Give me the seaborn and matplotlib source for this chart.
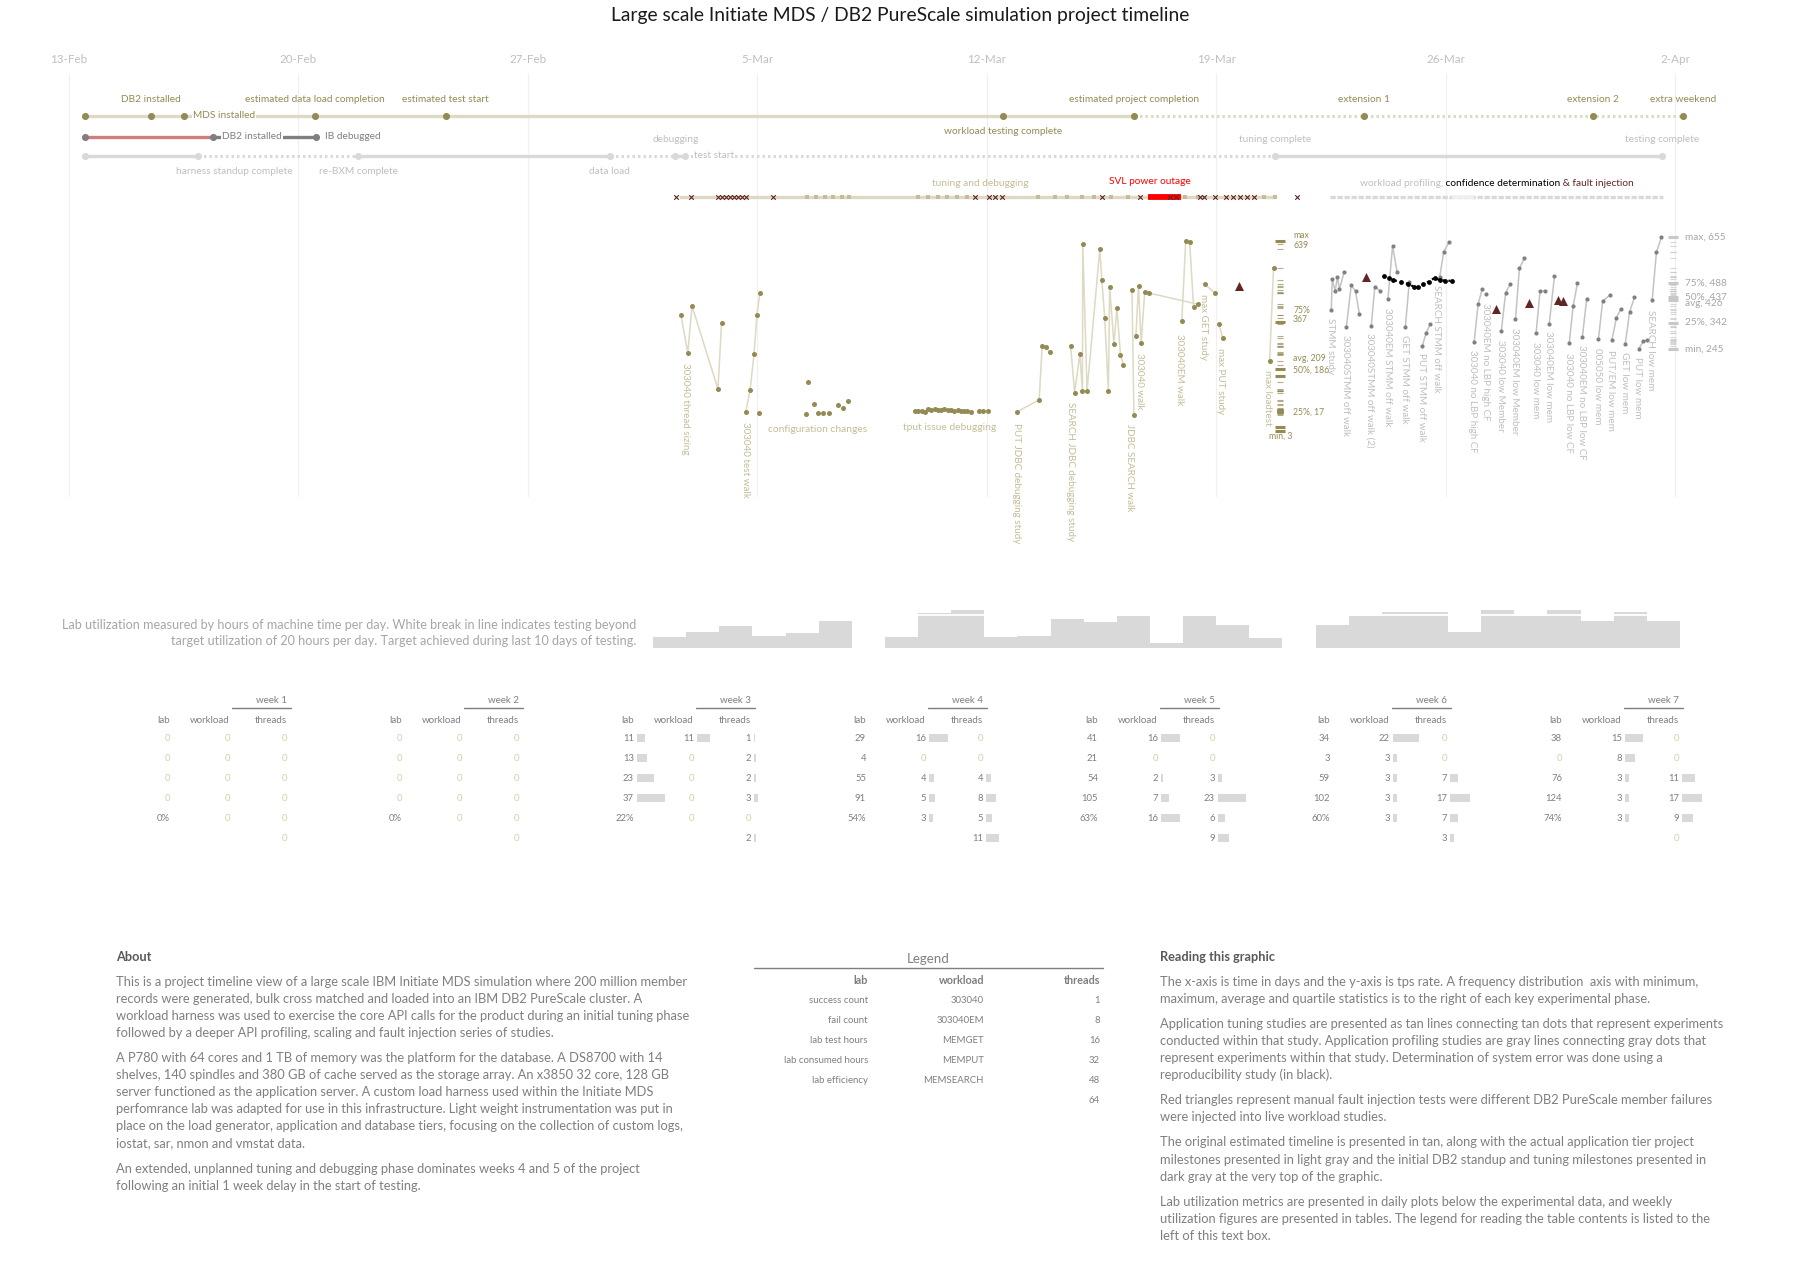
import matplotlib
matplotlib.use("Agg")
import matplotlib.pyplot as plt
import numpy as np
import pandas as pd
import seaborn as sns

# ---------------- data (days counted from 13-Feb-2012) ----------------
date_ticks = [0, 7, 14, 21, 28, 35, 42, 49]
date_labels = ["13-Feb", "20-Feb", "27-Feb", "5-Mar", "12-Mar", "19-Mar", "26-Mar", "2-Apr"]

est_days = [0.5, 2.5, 3.5, 7.5, 11.5, 28.5, 32.5, 39.5, 46.5, 49.25]
est_names = ["", "DB2 installed", "MDS installed", "estimated data load completion",
             "estimated test start", "workload testing complete",
             "estimated project completion", "extension 1", "extension 2", "extra weekend"]

db2_days = [0.5, 4.4, 7.55]
db2_names = ["", "DB2 installed", "IB debugged"]

act_days = [0.5, 3.95, 8.83, 16.5, 18.5, 18.8, 36.8, 48.6]
act_names = ["", "harness standup complete", "re-BXM complete", "data load", "debugging",
             "test start", "tuning complete", "testing complete"]

run_span = [18.6, 36.81]
run_dash_days = [22.52, 22.79, 23.07, 23.31, 23.59, 23.80, 25.9, 26.2, 26.5, 26.8, 27.1, 27.4,
                 29.55, 30.08, 30.45, 30.9, 31.27, 31.8, 32.3, 34.05, 34.45, 36.45, 36.8]
fail_days = [18.52, 18.97, 19.80, 19.92, 20.04, 20.17, 20.29, 20.41, 20.53, 20.66, 21.48,
             27.63, 28.07, 28.25, 28.47, 31.51, 32.67, 33.59, 33.77, 34.5, 34.63, 34.96,
             35.3, 35.51, 35.72, 35.94, 36.15, 37.46]
outage_span = [32.91, 33.93]
profiling_span = [38.47, 48.62]
confidence_span = [42.2, 42.85]

# application tuning studies (tan)
tan_names = ["303040 thread sizing", "303040 test walk", "PUT JDBC debugging study",
             "SEARCH JDBC debugging study", "JDBC SEARCH walk", "303040 walk",
             "303040EM walk", "max GET study", "max PUT study", "max loadtest"]
tan_days = [
    [18.67, 18.88, 19.01, 19.80, 19.91],
    [20.65, 20.78, 20.90, 20.99, 21.08],
    [28.92, 29.60, 29.69, 29.80, 29.92],
    [30.56, 30.68, 30.84, 30.92, 30.93, 31.06, 31.45, 31.51, 31.60, 31.71, 31.75,
     31.88, 31.97, 32.08, 32.17],
    [32.43, 32.49],
    [32.55, 32.63, 32.71, 32.82, 32.95, 34.43],
    [33.95, 34.07, 34.19, 34.31],
    [34.65, 34.96],
    [35.08, 35.20],
    [36.63, 36.75],
]
tan_tps = [
    [391, 264, 421, 143, 364],
    [67, 140, 260, 391, 464],
    [67, 107, 287, 284, 267],
    [287, 130, 260, 137, 628, 137, 611, 508, 381, 137, 484, 294, 414, 257, 224],
    [474, 56],
    [321, 488, 297, 468, 464, 427],
    [371, 638, 635, 417],
    [494, 464],
    [361, 314],
    [237, 549],
]
config_days = [21.05, 22.49, 22.54, 22.73, 22.85, 23.02, 23.18, 23.46, 23.60, 23.76]
config_tps = [63, 60, 167, 93, 63, 63, 63, 90, 80, 103]
tput_days = [25.81, 25.91, 26.01, 26.11, 26.21, 26.31, 26.41, 26.51, 26.61, 26.71, 26.81,
             26.91, 27.01, 27.11, 27.21, 27.31, 27.41, 27.51, 27.75, 27.90, 28.04]
tput_tps = [71, 71, 71, 65, 77, 74, 77, 74, 74, 77, 74, 74, 71, 74, 71, 71, 71, 68, 71, 71, 71]
tan_stat_names = ["max\n639", "75%\n367", "avg, 209", "50%, 186", "25%, 17", "min, 3"]
tan_stat_vals = [639, 367, 209, 186, 17, 3]
tan_fault_days = [35.69]
tan_fault_tps = [489]

# application profiling studies (gray)
gray_names = ["STMM study", "303040STMM off walk", "303040STMM off walk (2)",
              "303040EM STMM off walk", "GET STMM off walk", "PUT STMM off walk",
              "SEARCH STMM off walk", "303040 no LBP high CF", "303040EM no LBP high CF",
              "303040 low Member", "303040EM low Member", "303040 low mem", "303040EM low mem",
              "303040 no LBP low CF", "303040EM no LBP low CF", "005050 low mem",
              "PUT/EM low mem", "GET low mem", "PUT low mem", "SEARCH low mem"]
gray_days = [
    [38.51, 38.54, 38.63, 38.70, 38.76, 38.90],
    [38.97, 39.12, 39.25, 39.37],
    [39.73, 39.84, 40.00],
    [40.24, 40.38, 40.52],
    [40.77, 40.89],
    [41.29, 41.41, 41.53],
    [41.82, 41.94, 42.10],
    [42.87, 42.99, 43.11],
    [43.24],
    [43.70, 43.83, 43.97],
    [44.13, 44.25, 44.40],
    [44.76, 44.88, 45.04],
    [45.16, 45.32],
    [45.77, 45.89, 46.02],
    [46.17, 46.30],
    [46.66, 46.79, 47.00],
    [47.07, 47.21, 47.35],
    [47.48, 47.61, 47.76],
    [47.89, 48.03, 48.15],
    [48.30, 48.43, 48.58],
]
gray_tps = [
    [388, 501, 458, 510, 464, 527],
    [325, 479, 457, 372],
    [331, 474, 459],
    [430, 623, 527],
    [327, 490],
    [257, 305, 336],
    [510, 602, 637],
    [272, 409, 464],
    [446],
    [312, 452, 483],
    [354, 541, 578],
    [305, 458, 458],
    [338, 513],
    [266, 404, 486],
    [288, 427],
    [281, 421, 442],
    [277, 360, 393],
    [264, 380, 435],
    [245, 273, 277],
    [424, 600, 655],
]
repro_days = [40.12, 40.27, 40.40, 40.64, 40.86, 41.02, 41.17, 41.32, 41.48, 41.66, 41.82, 41.99, 42.20]
repro_tps = [513, 505, 498, 491, 484, 474, 472, 483, 492, 506, 498, 496, 495]
gray_fault_days = [39.58, 43.54, 44.55, 45.42, 45.58]
gray_fault_tps = [510, 391, 413, 425, 420]
gray_stat_names = ["max, 655", "75%, 488", "50%, 437", "avg, 426", "25%, 342", "min, 245"]
gray_stat_vals = [655, 488, 437, 426, 342, 245]

# lab utilization, hours per day (None = no testing)
util_hours = [6.7, 9.6, 13.3, 7.3, 9.0, 16.3, None,
              6.5, 21.0, 23.0, 6.5, 7.1, 17.6, 15.7, 19.4, 2.9, 19.4, 13.9, 5.9, None,
              13.9, 19.4, 21.6, 21.6, 9.6, 23.0, 19.4, 23.0, 16.3, 21.6, 16.3]
target_hours = 20

# weekly tables
week_lab = [[0, 0, 0, 0], [0, 0, 0, 0], [11, 13, 23, 37], [29, 4, 55, 91],
            [41, 21, 54, 105], [34, 3, 59, 102], [38, 0, 76, 124]]
week_eff = ["0%", "0%", "22%", "54%", "63%", "60%", "74%"]
week_workload = [[0, 0, 0, 0, 0], [0, 0, 0, 0, 0], [11, 0, 0, 0, 0], [16, 0, 4, 5, 3],
                 [16, 0, 2, 7, 16], [22, 3, 3, 3, 3], [15, 8, 3, 3, 3]]
week_threads = [[0, 0, 0, 0, 0, 0], [0, 0, 0, 0, 0, 0], [1, 2, 2, 3, 0, 2], [0, 0, 4, 8, 5, 11],
                [0, 0, 3, 23, 6, 9], [0, 0, 7, 17, 7, 3], [0, 0, 11, 17, 9, 0]]

legend_lab = ["success count", "fail count", "lab test hours", "lab consumed hours", "lab efficiency"]
legend_workload = ["303040", "303040EM", "MEMGET", "MEMPUT", "MEMSEARCH"]
legend_threads = ["1", "8", "16", "32", "48", "64"]

about_lines = [
    ["This is a project timeline view of a large scale IBM Initiate MDS simulation where 200 million member",
     "records were generated, bulk cross matched and loaded into an IBM DB2 PureScale cluster. A",
     "workload harness was used to exercise the core API calls for the product during an initial tuning phase",
     "followed by a deeper API profiling, scaling and fault injection series of studies."],
    ["A P780 with 64 cores and 1 TB of memory was the platform for the database. A DS8700 with 14",
     "shelves, 140 spindles and 380 GB of cache served as the storage array. An x3850 32 core, 128 GB",
     "server functioned as the application server. A custom load harness used within the Initiate MDS",
     "perfomrance lab was adapted for use in this infrastructure. Light weight instrumentation was put in",
     "place on the load generator, application and database tiers, focusing on the collection of custom logs,",
     "iostat, sar, nmon and vmstat data."],
    ["An extended, unplanned tuning and debugging phase dominates weeks 4 and 5 of the project",
     "following an initial 1 week delay in the start of testing."],
]
reading_lines = [
    ["The x-axis is time in days and the y-axis is tps rate. A frequency distribution  axis with minimum,",
     "maximum, average and quartile statistics is to the right of each key experimental phase."],
    ["Application tuning studies are presented as tan lines connecting tan dots that represent experiments",
     "conducted within that study. Application profiling studies are gray lines connecting gray dots that",
     "represent experiments within that study. Determination of system error was done using a",
     "reproducibility study (in black)."],
    ["Red triangles represent manual fault injection tests were different DB2 PureScale member failures",
     "were injected into live workload studies."],
    ["The original estimated timeline is presented in tan, along with the actual application tier project",
     "milestones presented in light gray and the initial DB2 standup and tuning milestones presented in",
     "dark gray at the very top of the graphic."],
    ["Lab utilization metrics are presented in daily plots below the experimental data, and weekly",
     "utilization figures are presented in tables. The legend for reading the table contents is listed to the",
     "left of this text box."],
]

# ---------------- layout / style ----------------
W, H = 1799, 1269
X0_PX, PX_DAY = 68.9, 32.78          # pixel of 13-Feb and pixels per day
AX_L, AX_R = 40, 1760
TAN_AXIS_DAY, GRAY_AXIS_DAY = 36.95, 48.94
ROW_EST, ROW_DB2, ROW_ACT, ROW_RUN = 115.7, 136.7, 156.0, 197.0

TAN_DOT, TAN_LINE, TAN_TEXT = "#948a54", "#ddd9c3", "#c4bd97"
GRAY_DOT, GRAY_LINE, GRAY_TEXT = "#808080", "#c3c3c3", "#bfbfbf"
LIGHT_GRAY, DARK_RED = "#d9d9d9", "#632523"
TXT = "#7f7f7f"
ZERO = "#d6cfa8"

sns.set_theme(style="white")
plt.rcParams["font.family"] = ["Lato", "DejaVu Sans"]

fig = plt.figure(figsize=(W / 100, H / 100), dpi=100)


def px_axes(left, top, right, bottom):
    ax = fig.add_axes([left / W, 1 - bottom / H, (right - left) / W, (bottom - top) / H])
    ax.set_facecolor("none")
    for s in ax.spines.values():
        s.set_visible(False)
    return ax


day_lim = ((AX_L - X0_PX) / PX_DAY, (AX_R - X0_PX) / PX_DAY)

# ---- grid + milestone rows (y in pixels) ----
ax = px_axes(AX_L, 73, AX_R, 497)
ax.set_xlim(day_lim)
ax.set_ylim(497, 73)
ax.vlines(date_ticks, 73, 497, color="#f0f0f0", lw=0.9, zorder=0)
ax.xaxis.tick_top()
ax.set_xticks(date_ticks, date_labels)
ax.tick_params(axis="x", length=0, pad=6, labelsize=8.4, labelcolor="#bfbfbf")
ax.set_yticks([])

ROW_FONT = 7.3


def row_labels(days, names, place, y, color, dxs=None):
    for k, (d, n, p) in enumerate(zip(days, names, place)):
        if not n:
            continue
        dx = dxs[k] if dxs else 0
        if p == "above":
            ax.annotate(n, (d, y), xytext=(dx, 16), textcoords="offset pixels", ha="center",
                        va="center", fontsize=ROW_FONT, color=color)
        elif p == "below":
            ax.annotate(n, (d, y), xytext=(dx, -15.5), textcoords="offset pixels", ha="center",
                        va="center", fontsize=ROW_FONT, color=color)
        else:
            ax.annotate(n, (d, y), xytext=(9, 0), textcoords="offset pixels", ha="left",
                        va="center", fontsize=ROW_FONT, color=color,
                        bbox=dict(fc="white", ec="none", pad=0.6))


# estimated timeline
ax.plot(est_days[:7], [ROW_EST] * 7, color=TAN_LINE, lw=2.4, solid_capstyle="butt", zorder=1)
ax.plot(est_days[6:], [ROW_EST] * len(est_days[6:]), color=TAN_LINE, lw=2.2,
        ls=(0, (0.8, 1.0)), zorder=1)
sns.scatterplot(x=est_days, y=[ROW_EST] * len(est_days), color=TAN_DOT, s=26, linewidth=0,
                ax=ax, zorder=3)
row_labels(est_days, est_names,
           ["", "above", "right", "above", "above", "below", "above", "above", "above", "above"],
           ROW_EST, TAN_DOT)

# DB2 standup
ax.plot(db2_days[:2], [ROW_DB2] * 2, color="#d07c7c", lw=2.4, solid_capstyle="butt", zorder=1)
ax.plot(db2_days[1:], [ROW_DB2] * 2, color="#7f7f7f", lw=2.4, solid_capstyle="butt", zorder=1)
sns.scatterplot(x=db2_days, y=[ROW_DB2] * 3, color="#7f7f7f", s=26, linewidth=0, ax=ax, zorder=3)
row_labels(db2_days, db2_names, ["", "right", "right"], ROW_DB2, "#7f7f7f")

# actual milestones
act_solid = [True, False, True, False, True, False, True]
for k, solid in enumerate(act_solid):
    seg = act_days[k:k + 2]
    if solid:
        ax.plot(seg, [ROW_ACT] * 2, color=LIGHT_GRAY, lw=2.4, solid_capstyle="butt", zorder=1)
    else:
        ax.plot(seg, [ROW_ACT] * 2, color=LIGHT_GRAY, lw=2.2, ls=(0, (0.8, 1.0)), zorder=1)
sns.scatterplot(x=act_days, y=[ROW_ACT] * len(act_days), color=LIGHT_GRAY, s=26, linewidth=0,
                ax=ax, zorder=3)
row_labels(act_days, act_names, ["", "below", "below", "below", "above", "right", "above", "above"],
           ROW_ACT, GRAY_TEXT, dxs=[0, 36, 0, 0, 0, 0, 0, 0])

# test run bar
ax.plot(run_span, [ROW_RUN] * 2, color=TAN_LINE, lw=2.4, solid_capstyle="butt", zorder=1)
ax.scatter(run_dash_days, [ROW_RUN] * len(run_dash_days), marker="s", s=6, color=TAN_TEXT,
           linewidth=0, zorder=2)
ax.plot(outage_span, [ROW_RUN] * 2, color="#ff0000", lw=4.2, solid_capstyle="butt", zorder=2)
sns.scatterplot(x=fail_days, y=[ROW_RUN] * len(fail_days), marker="x", s=11, color=DARK_RED,
                linewidth=0.8, ax=ax, zorder=4)
ax.plot(profiling_span, [ROW_RUN] * 2, color=LIGHT_GRAY, lw=2.4, ls=(0, (1.6, 0.5)), zorder=1)
ax.plot(confidence_span, [ROW_RUN] * 2, color="#f0f0f0", lw=2.6, solid_capstyle="butt", zorder=2)
ax.set_xlabel("")
ax.set_ylabel("")


def stat_axis(axis, xday, vals, stat_vals, stat_names, color, text_color, offsets, size):
    axis.plot([xday] * len(vals), vals, ls="", marker="_", ms=5, mew=0.8, color=color, alpha=0.7)
    axis.plot([xday] * len(stat_vals), stat_vals, ls="", marker="_", ms=7, mew=2.2, color=color)
    for n, v, (dx, dy) in zip(stat_names, stat_vals, offsets):
        axis.annotate(n, (xday, v), xytext=(dx, dy), textcoords="offset pixels", ha="left",
                      va="center", fontsize=size, color=text_color, linespacing=1.1)


def ylim_for(top, bottom, ref_px, ref_val, px_per_unit):
    return (ref_val - (bottom - ref_px) / px_per_unit, ref_val + (ref_px - top) / px_per_unit)


# ---- tuning studies (tan) ----
ax_tan = px_axes(AX_L, 200, AX_R, 497)
tan_df = pd.DataFrame([(n, d, v) for n, ds, vs in zip(tan_names, tan_days, tan_tps)
                       for d, v in zip(ds, vs)], columns=["study", "day", "tps"])
loose_df = pd.DataFrame({"day": config_days + tput_days, "tps": config_tps + tput_tps})
sns.lineplot(data=tan_df, x="day", y="tps", units="study", estimator=None, sort=False,
             color=TAN_LINE, lw=1.1, ax=ax_tan, legend=False)
sns.scatterplot(data=pd.concat([tan_df, loose_df]), x="day", y="tps", color=TAN_DOT, s=13,
                linewidth=0, ax=ax_tan, legend=False, zorder=3)
sns.scatterplot(x=tan_fault_days, y=tan_fault_tps, marker="^", s=42, color=DARK_RED,
                linewidth=0, ax=ax_tan, zorder=4)
stat_axis(ax_tan, TAN_AXIS_DAY, list(tan_df.tps) + config_tps + tput_tps, tan_stat_vals,
          tan_stat_names, TAN_DOT, TAN_DOT,
          [(13, 0), (13, 7), (13, 11), (13, 6), (13, 15), (-11, -5)], 6.2)
ax_tan.set_xlim(day_lim)
ax_tan.set_ylim(ylim_for(200, 497, 431, 3, 0.2992))

# ---- profiling studies (gray) ----
ax_gray = px_axes(AX_L, 200, AX_R, 497)
gray_df = pd.DataFrame([(n, d, v) for n, ds, vs in zip(gray_names, gray_days, gray_tps)
                        for d, v in zip(ds, vs)], columns=["study", "day", "tps"])
sns.lineplot(data=gray_df, x="day", y="tps", units="study", estimator=None, sort=False,
             color=GRAY_LINE, lw=1.1, ax=ax_gray, legend=False)
sns.scatterplot(data=gray_df, x="day", y="tps", color=GRAY_DOT, s=9, linewidth=0, ax=ax_gray,
                legend=False, zorder=3)
ax_gray.plot(repro_days, repro_tps, color="black", lw=1.6, ls=(0, (1, 1.6)), zorder=3)
sns.scatterplot(x=repro_days, y=repro_tps, color="black", s=12, linewidth=0, ax=ax_gray, zorder=4)
sns.scatterplot(x=gray_fault_days, y=gray_fault_tps, marker="^", s=42, color=DARK_RED,
                linewidth=0, ax=ax_gray, zorder=4)
stat_axis(ax_gray, GRAY_AXIS_DAY, list(gray_df.tps), gray_stat_vals, gray_stat_names,
          "#c8c8c8", "#a6a6a6", [(12, 0), (12, 0), (12, 0), (12, -4), (12, 0), (12, 0)], 7.2)
ax_gray.set_xlim(day_lim)
ax_gray.set_ylim(ylim_for(200, 497, 349, 245, 0.2724))

for a in (ax, ax_tan, ax_gray):
    a.set_xlabel("")
    a.set_ylabel("")
for a in (ax_tan, ax_gray):
    a.axis("off")

# ---- lab utilization ----
ax_u = px_axes(653, 600, 1680, 647.7)
slots = [i for i, h in enumerate(util_hours) if h is not None]
hours = [h for h in util_hours if h is not None]
ax_u.bar(slots, hours, width=1.0, align="edge", color=LIGHT_GRAY, linewidth=0)
over = [i for i, h in zip(slots, hours) if h > target_hours]
ax_u.hlines([target_hours] * len(over), over, [i + 1 for i in over], color="white", lw=1.3)
ax_u.set_xlim(0, len(util_hours))
ax_u.set_ylim(0, 47.7 / 1.633)
ax_u.axis("off")

# ---- overlay in pixel coordinates: texts and tables ----
axp = px_axes(0, 0, W, H)
axp.set_xlim(0, W)
axp.set_ylim(H, 0)
axp.axis("off")


def t(x, y, s, size=7, color=TXT, ha="center", **kw):
    return axp.text(x, y, s, fontsize=size, color=color, ha=ha, va="center", **kw)


t(900, 16, "Large scale Initiate MDS / DB2 PureScale simulation project timeline", 13.9, "#1a1a1a")

t(980, 184, "tuning and debugging", 7.3, TAN_TEXT)
t(1150, 182, "SVL power outage", 7.3, "#ff0000")
w1 = t(1360, 184, "workload profiling,", 7.3, GRAY_TEXT, ha="left")
w2 = axp.annotate(" confidence determination", xy=(1, 0), xycoords=w1, ha="left", va="bottom",
                  fontsize=7.3, color="black")
axp.annotate(" & fault injection", xy=(1, 0), xycoords=w2, ha="left", va="bottom", fontsize=7.3,
             color=DARK_RED)

# rotated study labels
tan_label_px = [(686, 363), (745.8, 421.7), (1017, 422.7), (1071, 401.7), (1130, 424),
                (1140, 353), (1180, 334), (1203.5, 294), (1221, 348), (1268, 370)]
for n, (x, y) in zip(tan_names, tan_label_px):
    axp.text(x, y, n, rotation=270, ha="center", va="top", fontsize=7.1, color=TAN_TEXT)
t(818, 429, "configuration changes", 7.4, TAN_TEXT)
t(950, 427, "tput issue debugging", 7.4, TAN_TEXT)

gray_label_px = [(1330.7, 318), (1346, 335), (1369.5, 333), (1388, 308), (1405, 335),
                 (1421.8, 353), (1437, 285), (1472.4, 350), (1486, 303), (1500.4, 340),
                 (1514.6, 328), (1535.9, 342), (1549, 331), (1568.6, 353), (1582, 345),
                 (1597.3, 348), (1610.8, 350), (1624.2, 352), (1637.7, 357), (1650.6, 310)]
for n, (x, y) in zip(gray_names, gray_label_px):
    axp.text(x, y, n, rotation=270, ha="center", va="top", fontsize=7.1, color=GRAY_TEXT)

# utilization caption
t(636, 625, "Lab utilization measured by hours of machine time per day. White break in line "
  "indicates testing beyond", 9.05, "#a6a6a6", ha="right")
t(636, 641, "target utilization of 20 hours per day. Target achieved during last 10 days of testing.",
  9.05, "#a6a6a6", ha="right")

# weekly tables
row_y = [738.3, 758.3, 778.3, 798.3, 818.3, 838.3]


def cell(x, y, v, bar_scale):
    t(x, y, str(v), 6.8, ZERO if v == 0 else TXT, ha="right")
    if v and bar_scale:
        axp.barh(y, v * bar_scale, left=x + 3, height=8, color=LIGHT_GRAY, linewidth=0)


for i in range(7):
    r = 287 + 232 * i
    t(r, 700.7, f"week {i + 1}", 7, ha="right")
    axp.plot([r - 55, r + 4], [708, 708], color="#7f7f7f", lw=1)
    for cx, head in zip([r - 117, r - 57, r], ["lab", "workload", "threads"]):
        t(cx, 720.7, head, 7, ha="right")
    for k, v in enumerate(week_lab[i]):
        cell(r - 117, row_y[k], v, 0.75 if i == 2 else 0)
    t(r - 117, row_y[4], week_eff[i], 6.8, ha="right")
    for k, v in enumerate(week_workload[i]):
        cell(r - 57, row_y[k], v, 1.2)
    for k, v in enumerate(week_threads[i]):
        cell(r, row_y[k], v, 1.2)

# legend table
t(928, 959, "Legend", 9.6, "#808080")
axp.plot([754, 1103], [968, 968], color="#7f7f7f", lw=1)
for cx, head in zip([868, 984, 1100], ["lab", "workload", "threads"]):
    t(cx, 980, head, 7.8, "#7f7f7f", ha="right", fontweight="bold")
for k, s in enumerate(legend_lab):
    t(868, 1000.7 + 20 * k, s, 6.9, ha="right")
for k, s in enumerate(legend_workload):
    t(984, 1000.7 + 20 * k, s, 6.9, ha="right")
for k, s in enumerate(legend_threads):
    t(1100, 1000.7 + 20 * k, s, 6.9, ha="right")


def text_block(x, y, title, paras, gap=8):
    t(x, 957, title, 9.2, "#595959", ha="left", fontweight="bold")
    for lines in paras:
        for line in lines:
            t(x, y, line, 9.3, "#7f7f7f", ha="left")
            y += 17.1
        y += gap


text_block(116, 981.7, "About", about_lines)
text_block(1160, 981.7, "Reading this graphic", reading_lines)

fig.savefig("out.png", dpi=100)
